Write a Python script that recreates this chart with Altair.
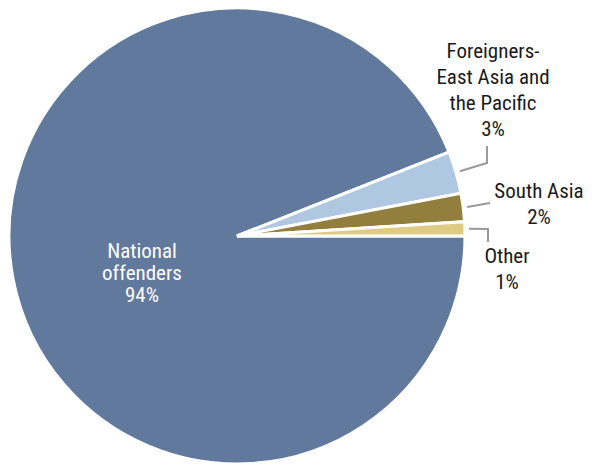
import math
import altair as alt
import pandas as pd

# ---- data ----
categories = ["National offenders", "Foreigners-East Asia and the Pacific", "South Asia", "Other"]
values = [94, 3, 2, 1]
pct_labels = ["94%", "3%", "2%", "1%"]
label_lines = ["National\noffenders", "Foreigners-\nEast Asia and\nthe Pacific", "South Asia", "Other"]
colors = ["#60799d", "#b0c7e1", "#937f3d", "#decc84"]

# ---- layout (styling) ----
W, H = 576, 456
CX, CY, R = 229, 228, 228
FONT = "Roboto Condensed, Liberation Sans Narrow, DejaVu Sans Condensed, Roboto, sans-serif"
FS = 21
# label anchor positions (first-line centers) and leader elbows
label_pos = {
    "National offenders": (134, 244),
    "Foreigners-East Asia and the Pacific": (485, 44),
    "South Asia": (531, 184),
    "Other": (499, 249),
}
leader_path = {
    "Foreigners-East Asia and the Pacific": [(479, 155), (479, 138)],
    "South Asia": [(482, 195)],
    "Other": [(480, 221), (480, 234)],
}

total = sum(values)
pie = pd.DataFrame({"category": categories, "value": values, "idx": list(range(len(values)))})

arc = alt.Chart(pie).mark_arc(radius=R, stroke="white", strokeWidth=3).encode(
    theta=alt.Theta("value:Q", stack=True, scale=alt.Scale(range=[math.pi / 2, 5 * math.pi / 2])),
    color=alt.Color("category:N", scale=alt.Scale(domain=categories, range=colors), legend=None),
    order=alt.Order("idx:Q"),
    x=alt.value(CX),
    y=alt.value(CY),
)

# leader lines: start just outside the slice at its mid angle
rows = []
for i, c in enumerate(categories):
    if c not in leader_path:
        continue
    after = sum(values[i + 1:])  # counter-clockwise from 3 o'clock
    mid = (after + values[i] / 2) / total * 2 * math.pi
    sx = CX + (R + 4) * math.cos(mid)
    sy = CY - (R + 4) * math.sin(mid)
    pts = [(sx, sy)] + leader_path[c]
    for k, (px, py) in enumerate(pts):
        rows.append({"category": c, "k": k, "x": px, "y": py})
lead = pd.DataFrame(rows)

lines = alt.Chart(lead).mark_line(color="#9a9a9a", strokeWidth=2).encode(
    x=alt.X("x:Q", scale=None, axis=None),
    y=alt.Y("y:Q", scale=None, axis=None),
    detail="category:N",
    order="k:Q",
)

lab = pd.DataFrame({
    "category": categories,
    "text": [l + "\n" + p for l, p in zip(label_lines, pct_labels)],
    "x": [label_pos[c][0] for c in categories],
    "y": [label_pos[c][1] for c in categories],
})

inner = alt.Chart(lab[lab.category == categories[0]]).mark_text(
    font=FONT, fontSize=FS, color="white", align="center", baseline="middle",
    lineBreak="\n", lineHeight=22,
).encode(x=alt.X("x:Q", scale=None), y=alt.Y("y:Q", scale=None), text="text:N")

outer = alt.Chart(lab[lab.category != categories[0]]).mark_text(
    font=FONT, fontSize=FS, color="#1a1a1a", align="center", baseline="middle",
    lineBreak="\n", lineHeight=26,
).encode(x=alt.X("x:Q", scale=None), y=alt.Y("y:Q", scale=None), text="text:N")

chart = alt.layer(arc, lines, inner, outer).properties(
    width=W, height=H, padding=0, autosize=alt.AutoSizeParams(type="none")
).configure_view(stroke=None)

chart.save("out.html", embed_options={"renderer": "svg", "actions": False})
